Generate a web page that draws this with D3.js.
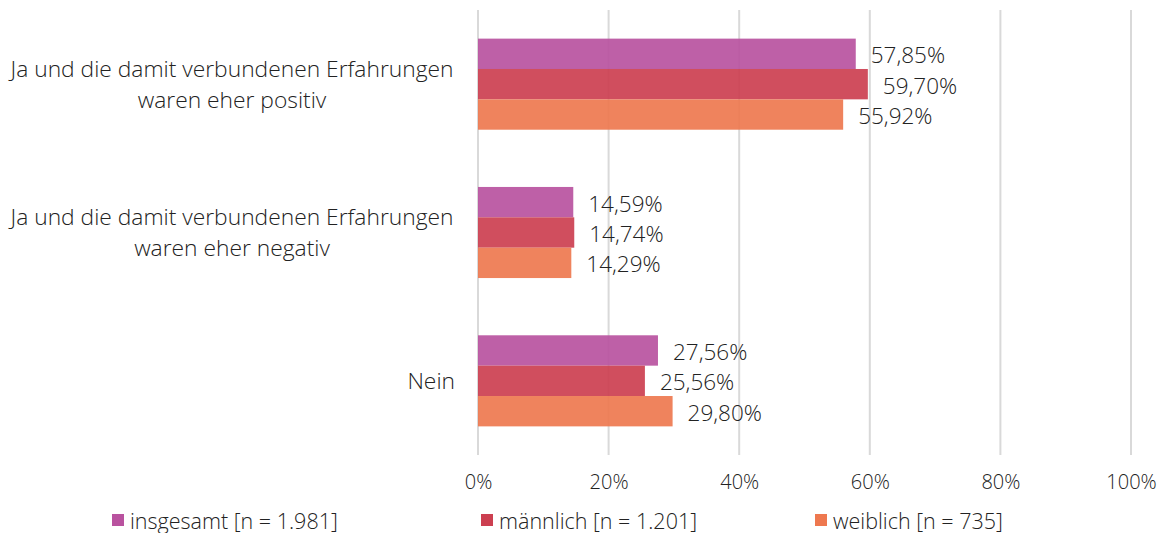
<!DOCTYPE html>
<html>
<head>
<meta charset="utf-8">
<script src="https://cdn.jsdelivr.net/npm/d3@7"></script>
<style>
  body { margin: 0; background: #fff; }
  svg { font-family: "Open Sans", sans-serif; font-weight: 300; }
</style>
</head>
<body>
<svg id="chart" width="1161" height="533"></svg>
<script>
// Categories (each may wrap onto two lines)
const categories = [
    ['Ja und die damit verbundenen Erfahrungen', 'waren eher positiv'],
    ['Ja und die damit verbundenen Erfahrungen', 'waren eher negativ'],
    ['Nein']
];
const seriesNames = ['insgesamt [n = 1.981]', 'männlich [n = 1.201]', 'weiblich [n = 735]'];
const seriesColors = ['#b9529f', '#cc3f50', '#ee784f'];

// values in percent, per series, one per category
const insgesamt = [57.85, 14.59, 27.56];
const maennlich = [59.70, 14.74, 25.56];
const weiblich = [55.92, 14.29, 29.80];
const seriesValues = [insgesamt, maennlich, weiblich];

const xTicks = [0, 20, 40, 60, 80, 100];

const textColor = '#222222';
const svg = d3.select('#chart');
const margin = { top: 10, left: 478, right: 30, bottom: 78 };
const width = 1161, height = 533;

const x = d3.scaleLinear()
    .domain([0, 100])
    .range([margin.left, 1131]);

const y = d3.scaleBand()
    .domain(categories.map((d, i) => i))
    .range([margin.top, height - margin.bottom])
    .paddingInner(0.386)
    .paddingOuter(0.193);

const ySub = d3.scaleBand()
    .domain(seriesNames.map((d, i) => i))
    .range([0, y.bandwidth()]);

const fmt = v => d3.format('.2f')(v).replace('.', ',') + '%';

// Gridlines
svg.append('g')
    .selectAll('line')
    .data(xTicks)
    .enter()
    .append('line')
    .attr('x1', d => x(d))
    .attr('x2', d => x(d))
    .attr('y1', margin.top)
    .attr('y2', height - margin.bottom)
    .attr('stroke', '#d9d9d9')
    .attr('stroke-width', 2);

// Axis tick labels
const xAxis = d3.axisBottom(x)
    .tickValues(xTicks)
    .tickSize(0)
    .tickPadding(0)
    .tickFormat(d => d + '%');

const axisG = svg.append('g')
    .attr('transform', `translate(0, ${height - margin.bottom + 20})`)
    .call(xAxis);
axisG.select('.domain').remove();
axisG.selectAll('text')
    .attr('font-family', '"Open Sans", sans-serif')
    .attr('font-size', '20px')
    .attr('fill', textColor);

// Bars
const groups = svg.append('g')
    .selectAll('g')
    .data(categories)
    .enter()
    .append('g')
    .attr('transform', (d, i) => `translate(0, ${y(i)})`);

groups.each(function(cat, ci) {
    const g = d3.select(this);
    seriesValues.forEach((vals, si) => {
        g.append('rect')
            .attr('x', x(0))
            .attr('y', ySub(si))
            .attr('width', x(vals[ci]) - x(0))
            .attr('height', ySub.bandwidth())
            .attr('fill', seriesColors[si])
            .attr('fill-opacity', 0.92);

        g.append('text')
            .attr('x', x(vals[ci]) + 15)
            .attr('y', ySub(si) + ySub.bandwidth() / 2 + 1)
            .attr('dominant-baseline', 'central')
            .attr('font-size', '22.5px')
            .attr('fill', textColor)
            .text(fmt(vals[ci]));
    });
});

// Category labels (centered multi-line, block right-aligned at x = 455)
const catG = svg.append('g');
categories.forEach((lines, ci) => {
    const cy = y(ci) + y.bandwidth() / 2;
    const lh = 31;
    const t = catG.append('text')
        .attr('font-size', '22.8px')
        .attr('fill', textColor)
        .attr('text-anchor', 'middle');
    lines.forEach((ln, li) => {
        t.append('tspan')
            .attr('x', 0)
            .attr('y', cy + (li - (lines.length - 1) / 2) * lh)
            .attr('dy', '0.35em')
            .text(ln);
    });
    const bw = t.node().getBBox().width;
    t.selectAll('tspan').attr('x', 455 - bw / 2);
});

// Legend
const legendX = [112, 481, 815];
const legend = svg.append('g')
    .selectAll('g')
    .data(seriesNames)
    .enter()
    .append('g')
    .attr('transform', (d, i) => `translate(${legendX[i]}, 520)`);

legend.append('rect')
    .attr('x', 0)
    .attr('y', -6)
    .attr('width', 12)
    .attr('height', 12)
    .attr('fill', (d, i) => seriesColors[i]);

legend.append('text')
    .attr('x', 18)
    .attr('y', 0)
    .attr('dominant-baseline', 'central')
    .attr('font-size', '21.5px')
    .attr('fill', textColor)
    .text(d => d);
</script>
</body>
</html>
